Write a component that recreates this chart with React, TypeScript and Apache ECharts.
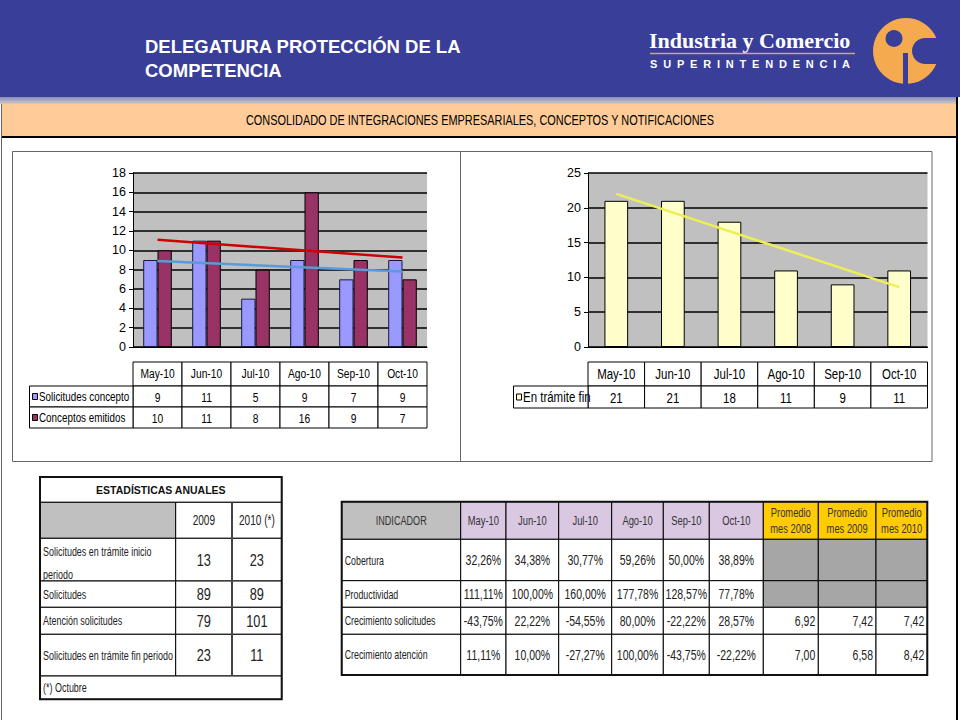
import React, { useEffect, useRef } from "react";
import * as echarts from "echarts";

// ---------- DATA ----------
const months = ["May-10", "Jun-10", "Jul-10", "Ago-10", "Sep-10", "Oct-10"];
const solicitudesConcepto = [9, 11, 5, 9, 7, 9];
const conceptosEmitidos = [10, 11, 8, 16, 9, 7];
const enTramiteFin = [21, 21, 18, 11, 9, 11];
// linear trend lines (start value at first month, end value at last month)
const trendSolicitudes = [8.9, 7.8];
const trendConceptos = [11.1, 9.25];
const trendTramite = [22.0, 8.6];

const annualTitle = "ESTADÍSTICAS ANUALES";
const annualYears = ["2009", "2010 (*)"];
const annualRows = [
  "Solicitudes en trámite inicio periodo",
  "Solicitudes",
  "Atención solicitudes",
  "Solicitudes en trámite fin periodo",
];
const annual2009 = [13, 89, 79, 23];
const annual2010 = [23, 89, 101, 11];
const annualNote = "(*) Octubre";

const indicadores = ["Cobertura", "Productividad", "Crecimiento solicitudes", "Crecimiento atención"];
const cobertura = [32.26, 34.38, 30.77, 59.26, 50.0, 38.89];
const productividad = [111.11, 100.0, 160.0, 177.78, 128.57, 77.78];
const crecSolicitudes = [-43.75, 22.22, -54.55, 80.0, -22.22, 28.57];
const crecAtencion = [11.11, 10.0, -27.27, 100.0, -43.75, -22.22];
const promedioHeaders = ["Promedio\nmes 2008", "Promedio\nmes 2009", "Promedio\nmes 2010"];
const promSolicitudes = [6.92, 7.42, 7.42];
const promAtencion = [7.0, 6.58, 8.42];

// ---------- STYLE ----------
const SANS = "'Liberation Sans', Arial, sans-serif";
const SERIF = "'Liberation Serif', 'Times New Roman', serif";
const NARROW_SCALE = 0.82;

const G1 = { left: 133, top: 173, width: 294, height: 174 };
const G2 = { left: 588, top: 173, width: 339.5, height: 174 };

const fmtPct = (v: number) => v.toFixed(2).replace(".", ",") + "%";
const fmtNum = (v: number) => v.toFixed(2).replace(".", ",");

function buildOption() {
  const elements: any[] = [];
  const R = (x: number, y: number, w: number, h: number, fill: any, stroke = "none", lw = 1) =>
    elements.push({ type: "rect", silent: true, shape: { x, y, width: w, height: h }, style: { fill, stroke, lineWidth: lw } });
  const L = (x1: number, y1: number, x2: number, y2: number, stroke = "#000", lw = 1) =>
    elements.push({ type: "line", silent: true, shape: { x1, y1, x2, y2 }, style: { stroke, lineWidth: lw } });
  const C = (cx: number, cy: number, r: number, fill: string) =>
    elements.push({ type: "circle", silent: true, shape: { cx, cy, r }, style: { fill } });
  const T = (x: number, y: number, text: string, o: any = {}) => {
    const style: any = {
      text,
      fill: o.color || "#000",
      fontSize: o.size || 12,
      fontFamily: o.family || SANS,
      fontWeight: o.weight || "normal",
      textAlign: o.align || "center",
      textVerticalAlign: o.valign || "middle",
      align: o.align || "center",
      verticalAlign: o.valign || "middle",
    };
    if (o.lh) style.lineHeight = o.lh;
    if (o.width) {
      style.width = o.width;
      style.overflow = "break";
    }
    const el: any = { type: "text", silent: true, x, y, style };
    const narrow = o.narrow !== false;
    if (narrow) el.scaleX = NARROW_SCALE;
    if (o.sx) el.scaleX = o.sx;
    elements.push(el);
  };

  // ---- header ----
  R(0, 0, 960, 97, "#393E98");
  R(0, 97, 957, 7, new echarts.graphic.LinearGradient(0, 0, 0, 1, [
    { offset: 0, color: "#868CB6" },
    { offset: 1, color: "#D2CBC9" },
  ]));
  T(145, 46, "DELEGATURA PROTECCIÓN DE LA", { color: "#fff", size: 18.5, weight: "bold", align: "left", narrow: false });
  T(145, 70, "COMPETENCIA", { color: "#fff", size: 18.5, weight: "bold", align: "left", narrow: false });
  T(649, 40, "Industria y Comercio", { color: "#fff", size: 22, weight: "bold", family: SERIF, align: "left", narrow: false });
  L(650, 53.5, 855, 53.5, "#C8A78C", 1.5);
  T(650, 63.5, "SUPERINTENDENCIA", { color: "#fff", size: 11, weight: "bold", align: "left", narrow: false });
  // logo
  C(906, 51, 33, "#F5AA4F");
  C(894, 38.5, 8.5, "#393E98");
  C(925, 51, 13, "#393E98");
  R(925, 38, 16, 26, "#393E98");
  R(903, 53, 5, 33, "#393E98");

  // ---- title band ----
  R(1, 104, 956, 32, "#FFCC99");
  L(1, 137, 957, 137, "#000", 2);
  L(1.5, 104, 1.5, 720, "#666", 1);
  L(957, 97, 957, 720, "#000", 2);
  T(480, 121, "CONSOLIDADO DE INTEGRACIONES EMPRESARIALES, CONCEPTOS Y NOTIFICACIONES", {
    size: 14, color: "#000", sx: 0.78,
  });

  // ---- chart panels ----
  R(12.5, 151.5, 919.5, 310, "none", "#666", 1);
  L(460.5, 151.5, 460.5, 461.5, "#666", 1);

  // ---- chart 1 data table ----
  {
    const cw = G1.width / months.length;
    const yH = 362, yR1 = 386, yR2 = 407, yEnd = 428;
    const labL = 29.5;
    months.forEach((m, i) => {
      const x = G1.left + i * cw;
      R(x, yH, cw, yR1 - yH, "#fff", "#000", 1);
      T(x + cw / 2, (yH + yR1) / 2, m, { size: 12.5 });
      R(x, yR1, cw, yR2 - yR1, "#fff", "#000", 1);
      T(x + cw / 2, (yR1 + yR2) / 2 + 1, String(solicitudesConcepto[i]), { size: 12.5 });
      R(x, yR2, cw, yEnd - yR2, "#fff", "#000", 1);
      T(x + cw / 2, (yR2 + yEnd) / 2 + 1, String(conceptosEmitidos[i]), { size: 12.5 });
    });
    R(labL, yR1, G1.left - labL, yR2 - yR1, "#fff", "#000", 1);
    R(labL, yR2, G1.left - labL, yEnd - yR2, "#fff", "#000", 1);
    R(32.5, (yR1 + yR2) / 2 - 3, 5, 6, "#9999FF", "#000", 1);
    R(32.5, (yR2 + yEnd) / 2 - 3, 5, 6, "#993366", "#000", 1);
    T(39, (yR1 + yR2) / 2, "Solicitudes concepto", { size: 12, align: "left" });
    T(39, (yR2 + yEnd) / 2, "Conceptos emitidos", { size: 12, align: "left" });
  }

  // ---- chart 2 data table ----
  {
    const cw = G2.width / months.length;
    const yH = 362, yR1 = 386, yEnd = 408;
    const labL = 513.5;
    months.forEach((m, i) => {
      const x = G2.left + i * cw;
      R(x, yH, cw, yR1 - yH, "#fff", "#000", 1);
      T(x + cw / 2, (yH + yR1) / 2, m, { size: 14 });
      R(x, yR1, cw, yEnd - yR1, "#fff", "#000", 1);
      T(x + cw / 2, (yR1 + yEnd) / 2 + 1, String(enTramiteFin[i]), { size: 14 });
    });
    R(labL, yR1, G2.left - labL, yEnd - yR1, "#fff", "#000", 1);
    R(516.5, (yR1 + yEnd) / 2 - 3, 5, 6, "#FFFFCC", "#000", 1);
    T(523, (yR1 + yEnd) / 2, "En trámite fin", { size: 14, align: "left" });
  }

  // ---- annual statistics table ----
  {
    const xs = [40, 175.7, 232, 281.7];
    const ys = [477, 502.3, 538.3, 581, 607.3, 634.3, 676, 699.3];
    const W = xs[3] - xs[0];
    R(xs[0], ys[0], W, ys[1] - ys[0], "#fff", "#000", 1);
    T((xs[0] + xs[3]) / 2, (ys[0] + ys[1]) / 2, annualTitle, { size: 10.5, weight: "bold", color: "#111", narrow: false });
    R(xs[0], ys[1], xs[1] - xs[0], ys[2] - ys[1], "#C0C0C0", "#000", 1);
    R(xs[1], ys[1], xs[2] - xs[1], ys[2] - ys[1], "#fff", "#000", 1);
    R(xs[2], ys[1], xs[3] - xs[2], ys[2] - ys[1], "#fff", "#000", 1);
    T((xs[1] + xs[2]) / 2, (ys[1] + ys[2]) / 2, annualYears[0], { size: 14, color: "#222", sx: 0.72 });
    T((xs[2] + xs[3]) / 2, (ys[1] + ys[2]) / 2, annualYears[1], { size: 14, color: "#222", sx: 0.72 });
    annualRows.forEach((lab, r) => {
      const y0 = ys[2 + r], y1 = ys[3 + r];
      R(xs[0], y0, xs[1] - xs[0], y1 - y0, "#fff", "#000", 1);
      R(xs[1], y0, xs[2] - xs[1], y1 - y0, "#fff", "#000", 1);
      R(xs[2], y0, xs[3] - xs[2], y1 - y0, "#fff", "#000", 1);
      const cy = (y0 + y1) / 2;
      if (r === 0) {
        T(xs[0] + 3, cy + 3, lab, { size: 13, align: "left", color: "#222", width: 180, lh: 23, sx: 0.69 });
      } else {
        T(xs[0] + 3, cy, lab, { size: 13, align: "left", color: "#222", sx: 0.69 });
      }
      T((xs[1] + xs[2]) / 2, cy, String(annual2009[r]), { size: 17, color: "#222", sx: 0.75 });
      T((xs[2] + xs[3]) / 2, cy, String(annual2010[r]), { size: 17, color: "#222", sx: 0.75 });
    });
    R(xs[0], ys[6], W, ys[7] - ys[6], "#fff", "#000", 1);
    T(xs[0] + 3, (ys[6] + ys[7]) / 2, annualNote, { size: 13, align: "left", color: "#222", sx: 0.69 });
    L(xs[2], ys[1], xs[2], ys[6], "#444", 2);
    R(xs[0], ys[0], W, ys[7] - ys[0], "none", "#111", 2);
  }

  // ---- indicator table ----
  {
    const xs = [341.7, 460.7, 506, 558.7, 611.7, 663.3, 709.3, 763.3, 818.3, 876, 927.3];
    const ys = [501.7, 539.3, 580.7, 607.3, 634.3, 675];
    const rowsVals = [cobertura, productividad, crecSolicitudes, crecAtencion];
    R(xs[0], ys[0], xs[1] - xs[0], ys[1] - ys[0], "#C0C0C0", "#000", 1);
    T((xs[0] + xs[1]) / 2, (ys[0] + ys[1]) / 2, "INDICADOR", { size: 13, color: "#333", sx: 0.7 });
    months.forEach((m, i) => {
      R(xs[1 + i], ys[0], xs[2 + i] - xs[1 + i], ys[1] - ys[0], "#DAC8E3", "#000", 1);
      T((xs[1 + i] + xs[2 + i]) / 2, (ys[0] + ys[1]) / 2, m, { size: 13, color: "#333", sx: 0.72 });
    });
    promedioHeaders.forEach((p, j) => {
      const x0 = xs[7 + j], x1 = xs[8 + j];
      R(x0, ys[0], x1 - x0, ys[1] - ys[0], "#FFCC00", "#000", 1);
      T((x0 + x1) / 2, (ys[0] + ys[1]) / 2, p, { size: 13, color: "#333", lh: 16, sx: 0.72 });
    });
    indicadores.forEach((lab, r) => {
      const y0 = ys[1 + r], y1 = ys[2 + r];
      const cy = (y0 + y1) / 2;
      R(xs[0], y0, xs[1] - xs[0], y1 - y0, "#fff", "#000", 1);
      T(xs[0] + 3, cy, lab, { size: 13, align: "left", color: "#222", sx: 0.68 });
      rowsVals[r].forEach((v, i) => {
        R(xs[1 + i], y0, xs[2 + i] - xs[1 + i], y1 - y0, "#fff", "#000", 1);
        T((xs[1 + i] + xs[2 + i]) / 2, cy, fmtPct(v), { size: 15, color: "#222", sx: 0.7 });
      });
      for (let j = 0; j < 3; j++) {
        const x0 = xs[7 + j], x1 = xs[8 + j];
        if (r < 2) {
          R(x0, y0, x1 - x0, y1 - y0, "#A6A6A6", "#000", 1);
        } else {
          R(x0, y0, x1 - x0, y1 - y0, "#fff", "#000", 1);
          const vals = r === 2 ? promSolicitudes : promAtencion;
          T(x1 - 3, cy, fmtNum(vals[j]), { size: 15, color: "#222", align: "right", sx: 0.7 });
        }
      }
    });
    R(xs[0], ys[0], xs[10] - xs[0], ys[5] - ys[0], "none", "#111", 2);
  }

  const yAxisCommon = {
    type: "value",
    axisLine: { show: true, lineStyle: { color: "#000", width: 1 } },
    axisTick: { show: true, length: 4, lineStyle: { color: "#000" } },
    axisLabel: { fontFamily: SANS, fontSize: 12.5, color: "#000", margin: 7 },
    splitLine: { show: true, lineStyle: { color: "#000", width: 1.5 } },
  };
  const xAxisCommon = {
    type: "category",
    data: months,
    axisLine: { show: true, lineStyle: { color: "#000", width: 1 } },
    axisTick: { show: false },
    axisLabel: { show: false },
  };

  return {
    animation: false,
    textStyle: { fontFamily: SANS },
    grid: [
      { ...G1, show: true, backgroundColor: "#C0C0C0", borderWidth: 0 },
      { ...G2, show: true, backgroundColor: "#C0C0C0", borderWidth: 0 },
    ],
    xAxis: [
      { ...xAxisCommon, gridIndex: 0 },
      { ...xAxisCommon, gridIndex: 1 },
    ],
    yAxis: [
      { ...yAxisCommon, gridIndex: 0, min: 0, max: 18, interval: 2 },
      { ...yAxisCommon, gridIndex: 1, min: 0, max: 25, interval: 5 },
    ],
    series: [
      {
        name: "Solicitudes concepto", type: "bar", xAxisIndex: 0, yAxisIndex: 0,
        data: solicitudesConcepto, barWidth: 14.3, barGap: "0%",
        itemStyle: { color: "#9999FF", borderColor: "#1a1a40", borderWidth: 1 },
      },
      {
        name: "Conceptos emitidos", type: "bar", xAxisIndex: 0, yAxisIndex: 0,
        data: conceptosEmitidos, barWidth: 14.3, barGap: "0%",
        itemStyle: { color: "#993366", borderColor: "#000", borderWidth: 1 },
      },
      {
        name: "Tendencia solicitudes", type: "line", xAxisIndex: 0, yAxisIndex: 0, z: 5,
        data: [[months[0], trendSolicitudes[0]], [months[months.length - 1], trendSolicitudes[1]]],
        symbol: "none", lineStyle: { color: "#5A9AD8", width: 2.5 },
      },
      {
        name: "Tendencia conceptos", type: "line", xAxisIndex: 0, yAxisIndex: 0, z: 5,
        data: [[months[0], trendConceptos[0]], [months[months.length - 1], trendConceptos[1]]],
        symbol: "none", lineStyle: { color: "#D00000", width: 2.5 },
      },
      {
        name: "En trámite fin", type: "bar", xAxisIndex: 1, yAxisIndex: 1,
        data: enTramiteFin, barWidth: 23.7,
        itemStyle: { color: "#FFFFCC", borderColor: "#000", borderWidth: 1 },
      },
      {
        name: "Tendencia en trámite", type: "line", xAxisIndex: 1, yAxisIndex: 1, z: 5,
        data: [[months[0], trendTramite[0]], [months[months.length - 1], trendTramite[1]]],
        symbol: "none", lineStyle: { color: "#EEEE55", width: 2.5 },
      },
    ],
    graphic: { elements },
  };
}

export default function App() {
  const ref = useRef<HTMLDivElement>(null);
  useEffect(() => {
    if (!ref.current) return;
    const chart = echarts.init(ref.current, null, { renderer: "svg" });
    chart.setOption(buildOption() as any);
    // spaced lettering for the logo subtitle
    const texts = ref.current.querySelectorAll("text");
    texts.forEach((t) => {
      if (t.textContent === "SUPERINTENDENCIA") {
        (t as SVGTextElement).style.letterSpacing = "5.8px";
      }
    });
    return () => chart.dispose();
  }, []);
  return (
    <div
      ref={ref}
      style={{ position: "absolute", left: 0, top: 0, width: 960, height: 720, background: "#fff" }}
    />
  );
}
